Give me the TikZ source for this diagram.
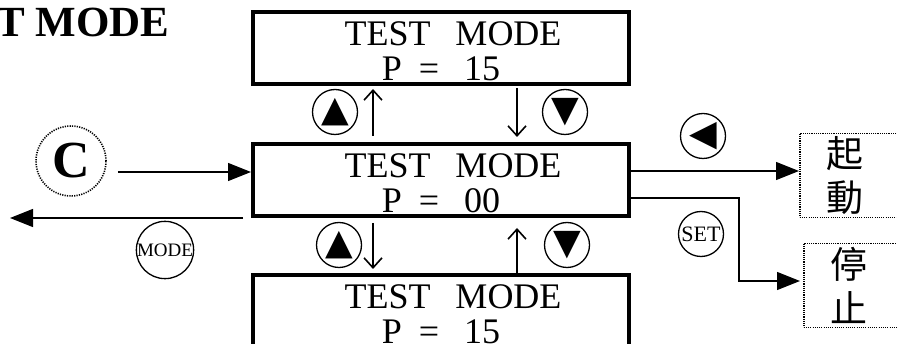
\documentclass[tikz,border=0pt]{standalone}
\usepackage{fontspec}
\setmainfont{Liberation Serif}
\newfontfamily\symfont{DejaVu Sans}
\newfontfamily\cjkfont{Noto Sans CJK TC}
\usetikzlibrary{arrows.meta, positioning, calc}
\newcommand\lcdlines[1]{\rule{0pt}{30pt}\hspace*{24pt}TEST\hspace{25pt}MODE\\P\hspace{17pt}=\hspace{25pt}#1}
\tikzset{
  lcd/.style={rectangle, draw, line width=4pt, minimum width=376pt, minimum height=72pt,
    inner sep=0pt, align=center, font=\fontsize{36}{35}\selectfont},
  keybtn/.style={circle, draw, line width=1.3pt, minimum size=45pt, inner sep=0pt,
    font=\symfont\fontsize{36}{36}\selectfont},
  clrkey/.style={circle, draw, line width=1.6pt, dash pattern=on 1.2pt off 1.2pt, minimum size=70pt,
    inner sep=0pt, font=\bfseries\fontsize{52}{52}\selectfont},
  tagbox/.style={rectangle, draw, line width=1.5pt, dash pattern=on 1.1pt off 1.1pt, text width=60pt,
    align=left, inner xsep=27pt, inner ysep=0pt, minimum height=84pt, font=\cjkfont\fontsize{37}{44}\selectfont},
  arrow/.style={-{Triangle[length=23pt,width=18pt]}, line width=1.3pt},
  steparrow/.style={-{Straight Barb[length=10pt,width=18pt]}, line width=1.6pt}
}
\begin{document}
\begin{tikzpicture}[x=1pt, y=-1pt]
\useasboundingbox (0,0) rectangle (897,344);
\clip (0,0) rectangle (897,344);

\node[anchor=base east, font=\bfseries\fontsize{43}{43}\selectfont] (title) at (173,37) {TEST MODE};

% display boxes
\node[lcd] (mid) at (441,180) {\lcdlines{00}};
\node[lcd, above=56pt of mid] (top) {\lcdlines{15}};
\node[lcd, below=55pt of mid] (bot) {\lcdlines{15}};

% up / down keys
\node[keybtn] (upkeyA) at (335,112) {▲};
\node[keybtn] (downkeyA) at (565,112) {▼};
\node[keybtn] (upkeyB) at (339,245) {▲};
\node[keybtn] (downkeyB) at (567,245) {▼};
\draw[steparrow] ([xshift=-68pt,yshift=6pt]mid.north) -- ([xshift=-68pt,yshift=-3pt]top.south);
\draw[steparrow] ([xshift=76pt,yshift=-2pt]top.south) -- ([xshift=76pt,yshift=5pt]mid.north);
\draw[steparrow] ([xshift=-68pt,yshift=-5pt]mid.south) -- ([xshift=-68pt,yshift=4pt]bot.north);
\draw[steparrow] ([xshift=76pt]bot.north) -- ([xshift=76pt,yshift=-10pt]mid.south);

% enter / leave
\node[clrkey] (clr) at (71,161) {C};
\coordinate (cin) at ([yshift=8pt]mid.west);
\draw[arrow] ($(clr.east |- cin)+(11,0)$) -- (cin);
\coordinate (exit) at (10,218);
\draw[arrow] ([xshift=-8pt]mid.south west) -- (exit);
\node[keybtn, minimum size=56pt, font=\fontsize{19}{19}\selectfont] (modekey) at (165,250) {MODE};

% start / stop
\node[tagbox, anchor=west] (start) at (799,175.5) {起\\動};
\node[tagbox, anchor=west] (stop) at (803,285.5) {停\\止};
\node[keybtn] (leftkey) at (703,136) {◀};
\node[keybtn, font=\fontsize{22}{22}\selectfont] (setkey) at (701,234) {SET};
\coordinate (rhi) at ([yshift=9pt]mid.east);
\draw[arrow] (rhi) -- (rhi -| start.west);
\coordinate (rlo) at ([yshift=-18pt]mid.east);
\draw[arrow, shorten >=3pt] (rlo) -- ++(108,0) |- ([yshift=4.5pt]stop.west);
\end{tikzpicture}
\end{document}
